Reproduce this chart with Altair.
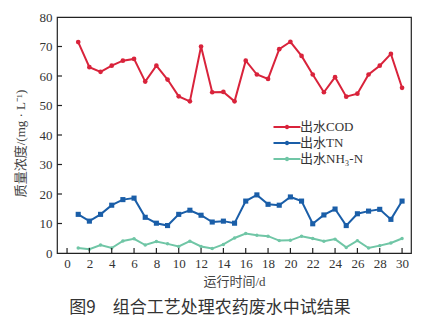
import altair as alt
import pandas as pd

days = list(range(1, 31))
cod = [71.5, 63.0, 61.4, 63.5, 65.2, 65.8, 58.1, 63.5, 58.8, 53.1,
       51.4, 70.0, 54.5, 54.6, 51.4, 65.2, 60.5, 59.0, 69.1, 71.6,
       66.8, 60.5, 54.5, 59.6, 53.0, 54.0, 60.5, 63.5, 67.5, 56.0]
tn = [13.1, 10.8, 13.1, 16.2, 18.1, 18.6, 12.1, 10.1, 9.3, 13.1,
      14.5, 12.8, 10.5, 10.8, 10.1, 17.6, 19.7, 16.5, 16.2, 19.0,
      17.6, 9.9, 12.9, 14.9, 9.3, 13.3, 14.2, 14.8, 11.4, 17.6]
nh3 = [1.7, 1.3, 2.7, 1.7, 4.1, 4.8, 2.7, 3.9, 3.1, 2.2,
       4.0, 2.2, 1.5, 2.9, 5.1, 6.6, 6.0, 5.7, 4.2, 4.3,
       5.7, 4.9, 4.0, 4.7, 1.9, 4.2, 1.7, 2.5, 3.4, 4.9]
series = ["出水COD", "出水TN", "出水NH₃-N"]
colors = ["#d9233b", "#1a5ea8", "#70c6a6"]
shapes = ["circle", "square", "circle"]
sizes = [22, 26, 12]
x_ticks = list(range(0, 31, 2))
y_ticks = list(range(10, 80, 10))

rows = []
for name, vals in zip(series, [cod, tn, nh3]):
    for d, v in zip(days, vals):
        rows.append({"day": d, "value": v, "series": name})
df = pd.DataFrame(rows)

FONT = "Liberation Serif, Noto Sans CJK SC"
W, H = 354, 236

xscale = alt.Scale(domain=[-0.9, 30.8], nice=False, zero=False)
yscale = alt.Scale(domain=[0, 80], nice=False)
cscale = alt.Scale(domain=series, range=colors)

legend_path = ("M-1.6,-0.06H1.6V0.06H-1.6Z "
               "M-0.2,0A0.2,0.2 0 1,0 0.2,0A0.2,0.2 0 1,0 -0.2,0Z")

xaxis = alt.Axis(values=x_ticks, title="运行时间/d", titleY=22,
                 titleBaseline="top", labelPadding=4, labelOverlap=False)
yaxis = alt.Axis(values=[0] + y_ticks + [80], title="质量浓度/(mg · L⁻¹)",
                 titleX=-30, titleY=126, labelPadding=5, labelOverlap=False)
leg = alt.Legend(title=None, orient="none", legendX=221, legendY=101,
                 symbolType=legend_path, symbolSize=260,
                 symbolStrokeWidth=1.2, labelOffset=4,
                 rowPadding=-2, labelFontSize=13,
                 labelFont=FONT, labelColor="#333")

base = alt.Chart(df)
X = alt.X("day:Q", scale=xscale, axis=xaxis)
Y = alt.Y("value:Q", scale=yscale, axis=yaxis)
C = alt.Color("series:N", scale=cscale, legend=leg)

layers = [base.mark_line(strokeWidth=2).encode(x=X, y=Y, color=C, detail="series:N")]
for name, shp, sz in zip(series, shapes, sizes):
    layers.append(
        base.transform_filter(alt.datum.series == name)
        .mark_point(filled=True, opacity=1, shape=shp, size=sz)
        .encode(x=X, y=Y, color=C)
    )

xt = pd.DataFrame({"t": x_ticks})
yt = pd.DataFrame({"t": y_ticks})
layers.append(alt.Chart(xt).mark_tick(color="#222", thickness=1.2, size=5, opacity=1).encode(
    x=alt.X("t:Q", scale=xscale, axis=xaxis), y=alt.value(H - 2.5)))
layers.append(alt.Chart(yt).mark_rule(color="#222", strokeWidth=1.2, opacity=1).encode(
    y=alt.Y("t:Q", scale=yscale, axis=yaxis), x=alt.value(0), x2=alt.value(5)))

chart = alt.layer(*layers).properties(
    width=W, height=H,
    title=alt.Title("图9　组合工艺处理农药废水中试结果", orient="bottom",
                    fontSize=17, font="Noto Sans CJK SC", fontWeight="normal",
                    color="#333", offset=12, dx=-24),
    autosize=alt.AutoSizeParams(type="none"),
    padding={"left": 57, "top": 17, "right": 15, "bottom": 76},
    background="white",
).configure_view(stroke="#222", strokeWidth=1.2).configure_axis(
    ticks=False, domain=False, grid=False,
    labelFont=FONT, labelFontSize=13, labelColor="#333",
    titleFont=FONT, titleFontSize=13, titleColor="#444", titleFontWeight="normal",
)

chart.save("out.html", embed_options={"renderer": "svg", "actions": False})
